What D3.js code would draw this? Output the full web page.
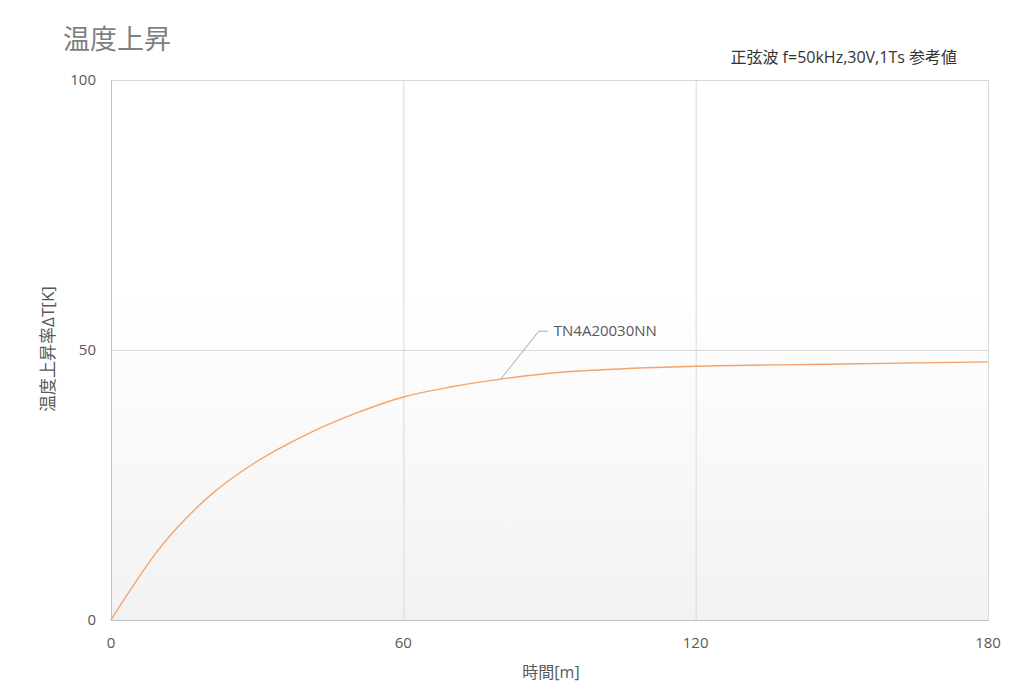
<!DOCTYPE html>
<html><head><meta charset="utf-8">
<script src="https://cdn.jsdelivr.net/npm/d3@7"></script>
<style>
body{margin:0;background:#fff;}
text{font-family:"Open Sans","Noto Sans CJK JP",sans-serif;}
</style></head>
<body><svg id="c" width="1022" height="695"></svg>
<script>
const times = [0,10,20,30,40,50,60,70,80,90,100,110,120,150,180];
const tempRise = [0,13.3,22.8,29.4,34.3,38.2,41.3,43.2,44.6,45.7,46.3,46.7,47.0,47.4,47.8];
const xTicks = [0,60,120,180];
const yTicks = [0,50,100];
const seriesName = "TN4A20030NN";

const svg = d3.select("#c");
const m = {l:111, r:988, t:80, b:620};
const x = d3.scaleLinear().domain([0,180]).range([m.l,m.r]);
const y = d3.scaleLinear().domain([0,100]).range([m.b,m.t]);

const defs = svg.append("defs");
const g = defs.append("linearGradient").attr("id","bg").attr("x1",0).attr("y1",0).attr("x2",0).attr("y2",1);
g.append("stop").attr("offset","0%").attr("stop-color","#ffffff");
g.append("stop").attr("offset","40%").attr("stop-color","#ffffff");
g.append("stop").attr("offset","100%").attr("stop-color","#f2f2f2");
svg.append("rect").attr("x",m.l).attr("y",m.t).attr("width",m.r-m.l).attr("height",m.b-m.t).attr("fill","url(#bg)");

// grid
svg.append("g").selectAll("line").data(yTicks.filter(d=>d>0)).join("line")
  .attr("x1",m.l).attr("x2",m.r).attr("y1",d=>y(d)+0.5).attr("y2",d=>y(d)+0.5)
  .attr("stroke","#d9d9d9");
svg.append("g").selectAll("line").data(xTicks.filter(d=>d>0)).join("line")
  .attr("y1",m.t).attr("y2",m.b).attr("x1",d=>x(d)+0.5).attr("x2",d=>x(d)+0.5)
  .attr("stroke","#d9d9d9");
// axes lines
svg.append("line").attr("x1",m.l+0.5).attr("x2",m.l+0.5).attr("y1",m.t).attr("y2",m.b).attr("stroke","#bfbfbf");
svg.append("line").attr("x1",m.l).attr("x2",m.r+1).attr("y1",m.b+0.5).attr("y2",m.b+0.5).attr("stroke","#bfbfbf");

// tick labels
svg.append("g").selectAll("text").data(yTicks).join("text")
  .attr("x",96).attr("y",d=>y(d)).attr("dy","0.35em").attr("text-anchor","end")
  .attr("font-size",15).attr("fill","#595959").text(d=>d);
svg.append("g").selectAll("text").data(xTicks).join("text")
  .attr("x",d=>x(d)).attr("y",643).attr("dy","0.35em").attr("text-anchor","middle")
  .attr("font-size",15).attr("fill","#595959").text(d=>d);

// line
const line = d3.line().x((d,i)=>x(times[i])).y(d=>y(d)).curve(d3.curveMonotoneX);
svg.append("path").datum(tempRise).attr("d",line).attr("fill","none")
  .attr("stroke","#f4a46a").attr("stroke-width",1.4);

// annotation
const ax = x(80), ay = y(44.6);
svg.append("polyline").attr("points",`${ax},${ay} ${ax+38},${ay-48} ${ax+47},${ay-48}`)
  .attr("fill","none").attr("stroke","#a6a6a6").attr("stroke-width",1);
svg.append("text").attr("x",ax+53).attr("y",ay-48).attr("dy","0.35em")
  .attr("font-size",15).attr("fill","#595959").text(seriesName);

// titles
svg.append("text").attr("x",63).attr("y",40).attr("dy","0.35em")
  .attr("font-size",27).attr("fill","#7f7f7f").text("温度上昇");
svg.append("text").attr("x",957).attr("y",57).attr("dy","0.35em").attr("text-anchor","end")
  .attr("font-size",16).attr("fill","#333333").text("正弦波 f=50kHz,30V,1Ts 参考値");
svg.append("text").attr("x",551).attr("y",672).attr("dy","0.35em").attr("text-anchor","middle")
  .attr("font-size",16).attr("fill","#595959").text("時間[m]");
svg.append("text").attr("transform","translate(48,349) rotate(-90)").attr("dy","0.35em")
  .attr("text-anchor","middle").attr("font-size",17).attr("fill","#595959").text("温度上昇率ΔT[K]");
</script></body></html>
